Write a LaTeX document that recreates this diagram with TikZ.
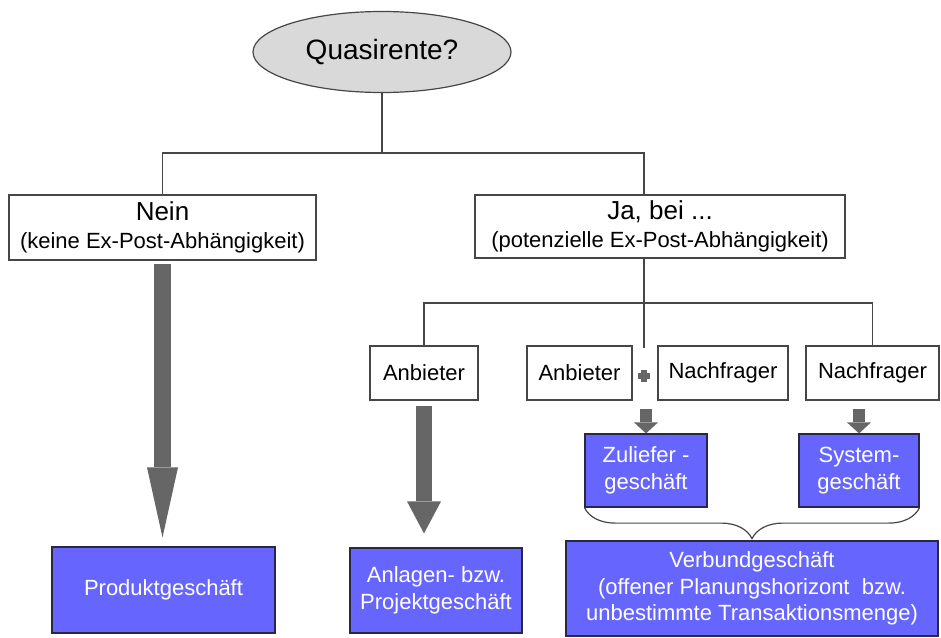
\documentclass[tikz,border=0pt]{standalone}
\usepackage{fontspec}
\setmainfont{Liberation Sans}
\usetikzlibrary{arrows.meta,shapes.geometric,decorations.pathreplacing}

\definecolor{linegray}{RGB}{70,70,70}
\definecolor{arrowgray}{RGB}{102,102,102}
\definecolor{ovalgray}{RGB}{217,217,217}
\definecolor{boxblue}{RGB}{102,102,255}
\definecolor{boxedge}{RGB}{40,40,70}

\newcommand{\fsz}[2]{\fontsize{#1}{#2}\selectfont}

\tikzset{
  question/.style={ellipse, draw=linegray, line width=1.2pt, fill=ovalgray,
    minimum width=258pt, minimum height=81pt, inner sep=0pt, font=\fsz{28}{32}},
  whitebox/.style={rectangle, draw=linegray, line width=1.2pt, fill=white,
    inner sep=0pt, align=center, font=\fsz{22}{28}},
  bluebox/.style={rectangle, draw=boxedge, line width=1.2pt, fill=boxblue,
    text=white, inner sep=0pt, align=center, font=\fsz{22}{26.5}},
  tree/.style={draw=linegray, line width=1.2pt},
  fatarrow/.style={draw=arrowgray, line width=16.5pt,
    -{Triangle[width=31pt 0 0, length=70pt 0 0, line width=0pt 0]}},
  midarrow/.style={draw=arrowgray, line width=16pt,
    -{Triangle[width=34pt 0 0, length=32pt 0 0, line width=0pt 0]}},
  smallarrow/.style={draw=arrowgray, line width=12pt,
    -{Triangle[width=24pt 0 0, length=11pt 0 0, line width=0pt 0]}},
  plussign/.style={minimum size=12pt, inner sep=0pt,
    path picture={
      \fill[arrowgray] ([xshift=-2.6pt,yshift=-6pt]path picture bounding box.center)
        rectangle ([xshift=2.6pt,yshift=6pt]path picture bounding box.center);
      \fill[arrowgray] ([xshift=-6pt,yshift=-2.6pt]path picture bounding box.center)
        rectangle ([xshift=6pt,yshift=2.6pt]path picture bounding box.center);}},
  bracket/.style={draw=linegray, line width=1.2pt,
    decorate, decoration={brace, amplitude=31pt, aspect=0.5}}
}

\begin{document}
\begin{tikzpicture}[x=1pt, y=-1pt]
\useasboundingbox (0,0) rectangle (941,637);

% top question
\node[question] (q) at (382,52) {Quasirente?};

% first level
\node[whitebox, minimum width=307pt, minimum height=65pt] (nein) at (162.5,227.5)
  {{\fsz{26}{30}Nein}\\(keine Ex-Post-Abhängigkeit)};
\node[whitebox, minimum width=370pt, minimum height=63pt] (ja) at (660,226.5)
  {{\fsz{26}{30}Ja, bei ...}\\(potenzielle Ex-Post-Abhängigkeit)};

% second level
\node[whitebox, minimum width=108pt, minimum height=54pt] (an1) at (424,373) {Anbieter};
\node[whitebox, minimum width=105pt, minimum height=54pt] (an2) at (579.5,373) {Anbieter};
\node[plussign] (pl) at (644,376) {};
\node[whitebox, minimum width=130pt, minimum height=54pt] (na2) at (723,373) {Nachfrager};
\node[whitebox, minimum width=133pt, minimum height=54pt] (na3) at (872.5,373) {Nachfrager};

% business types
\node[bluebox, minimum width=122pt, minimum height=73pt] (zu) at (646,470.5) {Zuliefer -\\geschäft};
\node[bluebox, minimum width=120pt, minimum height=73pt] (sys) at (859,470.5) {System-\\geschäft};
\node[bluebox, minimum width=223pt, minimum height=86pt] (prod) at (163.5,590) {Produktgeschäft};
\node[bluebox, minimum width=172pt, minimum height=85pt] (anl) at (436,590.5) {Anlagen- bzw.\\Projektgeschäft};
\node[bluebox, minimum width=372pt, minimum height=95pt] (verb) at (752,588.5)
  {Verbundgeschäft\\(offener Planungshorizont\ \ bzw.\\unbestimmte Transaktionsmenge)};

% tree connectors
\coordinate (t1) at (382,153);
\draw[tree] (q.south) -- (t1);
\draw[tree] (t1) -| (nein.north);
\draw[tree] (t1) -| (ja.north -| pl);
\coordinate (t2) at (644,303);
\coordinate (stem) at (644,348);
\draw[tree] (ja.south -| pl) -- (stem);
\draw[tree] (t2) -| (an1.north);
\draw[tree] (t2) -| (na3.north);

% thick arrows
\draw[fatarrow, shorten <=3pt, shorten >=9pt] (nein.south) -- (nein.south |- prod.north);
\draw[midarrow, shorten <=5pt, shorten >=14pt] (an1.south) -- (an1.south |- anl.north);
\draw[smallarrow, shorten <=8pt] (zu.north |- an2.south) -- (zu.north);
\draw[smallarrow, shorten <=8pt] (sys.north |- na3.south) -- (sys.north);

% brace joining the two business types
\draw[bracket] (sys.south east) -- (zu.south west);
\end{tikzpicture}
\end{document}
